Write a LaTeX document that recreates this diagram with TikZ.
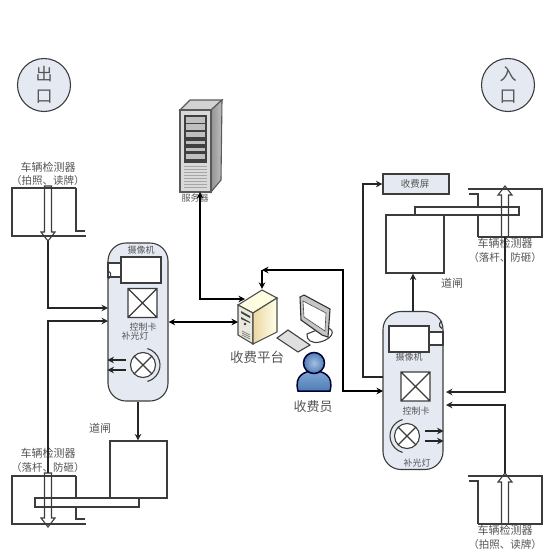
\documentclass[tikz,border=0pt]{standalone}
\usepackage{fontspec}
\setmainfont{Noto Sans CJK SC}
\usepackage{tikz}
\usetikzlibrary{positioning,arrows.meta}
\definecolor{panelblue}{HTML}{E4E9F2}
\definecolor{inkgray}{HTML}{3C3C3C}
\definecolor{textgray}{HTML}{555555}
\definecolor{clerkblue}{HTML}{7FA6D4}
\definecolor{clerkdark}{HTML}{4F7DB5}
\begin{document}
\begin{tikzpicture}[
  x=1pt, y=-1pt,
  line width=1.1pt,
  draw=inkgray,
  txt/.style={text=textgray, inner sep=0pt, font=\fontsize{#1}{#1}\selectfont},
  txt/.default=11,
  gatebox/.style={draw=inkgray, fill=white, inner sep=0pt},
  portal/.style={draw=inkgray, circle, fill=panelblue, minimum size=53pt, inner sep=0pt, align=center, text=textgray, font=\fontsize{17}{22}\selectfont},
  device/.style={draw=inkgray, fill=panelblue, rounded corners=18pt, minimum width=60pt, minimum height=158pt, inner sep=0pt},
  conn/.style={draw=black!85, -{Stealth[length=6.5pt,width=6.5pt]}},
  both/.style={draw=black, {Stealth[length=6.5pt,width=6.5pt]}-{Stealth[length=6.5pt,width=6.5pt]}},
  pics/detector/.style={code={
    \draw (64,0) -- (0,0) -- (0,48) -- (74,48);
    \draw (64,0) -- (64,43) -- (73,43);
  }},
  pics/hollowarrow/.style={code={
    \draw (0,0) -- (7,-9) -- (3.5,-9) -- (3.5,-#1) -- (-3.5,-#1) -- (-3.5,-9) -- (-7,-9) -- cycle;
  }},
  pics/crossbox/.style={code={
    \draw[fill=white] (0,0) rectangle (29,29) (0,0) -- (29,29) (29,0) -- (0,29);
  }},
  pics/lamp/.style={code={
    \draw[fill=white] (0,0) circle (12.5pt);
    \draw (-8.8,-8.8) -- (8.8,8.8) (8.8,-8.8) -- (-8.8,8.8);
    \draw (#1:17pt) arc[start angle=#1, delta angle=150, radius=17pt];
  }}
]
  \useasboundingbox (0,0) rectangle (555,555);

  \node[portal] (exitsign) at (44,85) {出\\口};
  \node[portal] (entrysign) at (508,85) {入\\口};

  % exit side
  \node[txt] (detAa) at (48,167) {车辆检测器};
  \node[txt=10.5] (detAb) at (48,181) {（拍照、读牌）};
  \pic at (12,188) {detector};
  \pic at (48,241) {hollowarrow=55};
  \coordinate (tipA) at (48,241);

  \node[device] (camL) at (138,322) {};
  \node[txt=9] (camLtxt) at (141,250) {摄像机};
  \node[gatebox, minimum width=13pt, minimum height=14pt] (lensL) at (114.5,270) {};
  \node[gatebox, minimum width=40pt, minimum height=26pt] (bodyL) at (141,270) {};
  \draw (108,279) arc[start angle=-70, end angle=70, radius=4.5pt];
  \pic at (128,288.5) {crossbox};
  \node[txt=9] (cardLtxt) at (143,327) {控制卡};
  \node[txt=9] (lampLtxt) at (135,336) {补光灯};
  \pic at (143,365) {lamp=-75};
  \coordinate (lampLa) at (126,360);
  \coordinate (lampLb) at (126,370);
  \draw[conn] (lampLa) -- (camL.west |- lampLa);
  \draw[conn] (lampLb) -- (camL.west |- lampLb);

  \node[gatebox, minimum width=57pt, minimum height=57pt] (gateL) at (138.5,469.5) {};
  \node[txt] (gateLtxt) at (100,428) {道闸};
  \draw[conn] (camL.south) -- (camL.south |- gateL.north);

  \node[txt] (detBa) at (48,453) {车辆检测器};
  \node[txt=10.5] (detBb) at (48,468) {（落杆、防砸）};
  \pic at (12,476) {detector};
  \node[gatebox, minimum width=104pt, minimum height=9pt] (barL) at (87,502.5) {};
  \pic at (48,527) {hollowarrow=54};
  \coordinate (tailB) at (48,473);

  \coordinate (inLa) at (108,308);
  \coordinate (inLb) at (108,321);
  \draw[conn] (tipA) |- (inLa);
  \draw[conn] (tailB) |- (inLb);

  % server
  \fill[gray!35, draw=gray!70!black] (180,110) -- (190,100) -- (222,100) -- (211,110) -- cycle;
  \shade[left color=gray!85, right color=gray!50, draw=gray!70!black] (211,110) -- (222,100) -- (221,180) -- (211,192) -- cycle;
  \node[draw=gray!70!black, fill=gray!30, minimum width=31pt, minimum height=82pt, inner sep=0pt] (server) at (195.5,151) {};
  \fill[black!75] (184,115) rectangle (207,163);
  \foreach \y/\h in {117/7,124/7,132/6,141/4,148/4,154/6}
    \fill[gray!50] (186,\y) rectangle (205,\y+\h-1);
  \foreach \y in {166,169,...,187}
    \draw[gray!70, line width=0.8pt] (184,\y) -- (207,\y);
  \node[txt=9] (servertxt) at (195,198) {服务器};

  % platform
  \fill[yellow!12!white, draw=black!70] (238,305) -- (262,290) -- (277,298) -- (253,313) -- cycle;
  \fill[yellow!20!gray!25, draw=black!70] (238,305) -- (253,313) -- (253,344) -- (238,335) -- cycle;
  \shade[left color=yellow!30!brown!45, right color=yellow!8!white, draw=black!70] (253,313) -- (277,298) -- (277,332) -- (253,344) -- cycle;
  \fill[black!75] (241,311) -- (250,316) -- (250,318) -- (241,313) -- cycle;
  \fill[black!75] (241,317) -- (250,322) -- (250,323) -- (241,319) -- cycle;
  \fill[black!80] (245,324) circle (1.4pt);
  \foreach \y in {331,333,335}
    \draw[black!60, line width=0.6pt] (242,\y) -- (250,\y+4);
  \node[inner sep=0pt, minimum size=1pt] (pc) at (262,290) {};
  \coordinate (pcW) at (238,322);
  \coordinate (pcN) at (245,299);
  \node[txt=13.5] (pctxt) at (257,357) {收费平台};

  \fill[gray!25, draw=black!75] (277,338) -- (288,330) -- (310,345) -- (298,352) -- cycle;
  \draw[black!75, fill=white] (322,328) .. controls (336,326) and (336,338) .. (320,342) .. controls (312,344) and (306,340) .. (307,334) -- cycle;
  \fill[gray!45, draw=black!80] (300,297) -- (304,295) -- (330,309) -- (328,337) -- (322,335) -- (301,320) -- cycle;
  \fill[white, draw=black!70, line width=0.6pt] (303,301) -- (326,313) -- (325,331) -- (304,317) -- cycle;

  \shade[top color=clerkblue, bottom color=clerkdark, draw=black!80!blue, line width=1.5pt]
    (298,391) .. controls (294,376) and (304,371) .. (314,371) .. controls (324,371) and (334,376) .. (330,391) -- cycle;
  \shade[inner color=clerkblue!70!white, outer color=clerkdark, draw=black!80!blue, line width=1.5pt] (314,363) circle (10.5pt);
  \node[txt=13] (clerktxt) at (313,407) {收费员};

  % entry side
  \node[gatebox, fill=panelblue, minimum width=66pt, minimum height=20pt] (screen) at (416,184) {};
  \node[txt=9.5] (screentxt) at (415,184) {收费屏};
  \pic at (542,237) [rotate=180] {detector};
  \node[gatebox, minimum width=58pt, minimum height=58pt] (gateR) at (415,244) {};
  \node[gatebox, minimum width=104pt, minimum height=8pt] (barR) at (467,211) {};
  \pic at (505,186) [rotate=180] {hollowarrow=51};
  \coordinate (tailC) at (505,237);
  \node[txt] (detCa) at (505,243) {车辆检测器};
  \node[txt=10.5] (detCb) at (505,258) {（落杆、防砸）};
  \node[txt] (gateRtxt) at (452,283) {道闸};

  \node[device] (camR) at (413,390.5) {};
  \node[gatebox, minimum width=14pt, minimum height=13pt] (lensR) at (436,338.5) {};
  \node[gatebox, minimum width=40pt, minimum height=26pt] (bodyR) at (409,339) {};
  \draw (442,321) arc[start angle=110, end angle=250, radius=4pt];
  \node[txt=9] (camRtxt) at (409,357) {摄像机};
  \pic at (401,372) {crossbox};
  \node[txt=9] (cardRtxt) at (416,411) {控制卡};
  \pic at (407,436) {lamp=105};
  \node[txt=9] (lampRtxt) at (417,463) {补光灯};
  \coordinate (lampRa) at (425,431);
  \coordinate (lampRb) at (425,441);
  \draw[conn] (lampRa) -- (camR.east |- lampRa);
  \draw[conn] (lampRb) -- (camR.east |- lampRb);

  \pic at (542,524) [rotate=180] {detector};
  \pic at (505,473) [rotate=180] {hollowarrow=51};
  \coordinate (tipD) at (505,473);
  \node[txt] (detDa) at (505,530) {车辆检测器};
  \node[txt=10.5] (detDb) at (505,545) {（拍照、读牌）};

  % connectors
  \coordinate (inRa) at (446,392);
  \coordinate (inRb) at (446,405);
  \coordinate (camRa) at (383,377);
  \coordinate (camRb) at (383,391);
  \coordinate (turn) at (262,270);
  \coordinate (serverS) at (200,192);
  \draw[conn] (tailC) |- (inRa);
  \draw[conn] (tipD) |- (inRb);
  \draw[conn] (camR.north) -- (camR.north |- gateR.south);
  \draw[conn] (camRa) -| ++(-20,-193) |- (screen.west);
  \draw[both] (serverS) |- (pcN);
  \draw[both] (camL.east |- pcW) -- (pcW);
  \draw[both] (camRb) -| (343,270) -- (turn);
  \draw[conn, draw=black] (turn) -- (pc);
\end{tikzpicture}
\end{document}
